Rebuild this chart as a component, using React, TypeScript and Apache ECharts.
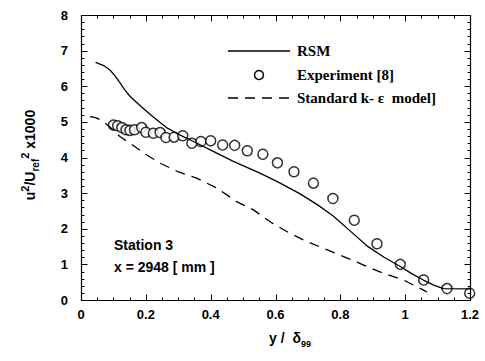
import React, { useEffect, useRef } from "react";
import * as echarts from "echarts";

const rsmData: number[][] = [
  [0.045, 6.67], [0.07, 6.58], [0.09, 6.45], [0.105, 6.29], [0.12, 6.1], [0.135, 5.9],
  [0.151, 5.72], [0.17, 5.56], [0.187, 5.42], [0.205, 5.28], [0.223, 5.14], [0.244, 4.98],
  [0.264, 4.84], [0.285, 4.73], [0.306, 4.63], [0.347, 4.45], [0.408, 4.17],
  [0.47, 3.89], [0.552, 3.56], [0.61, 3.3], [0.676, 2.98], [0.73, 2.67], [0.778, 2.36],
  [0.83, 1.94], [0.882, 1.52], [0.935, 1.2], [0.985, 0.94], [1.02, 0.74], [1.056, 0.56],
  [1.09, 0.41], [1.118, 0.32], [1.2, 0.31],
];

const keData: number[][] = [
  [0.028, 5.15], [0.045, 5.12], [0.064, 5.04], [0.09, 4.85], [0.12, 4.59], [0.151, 4.4],
  [0.203, 4.07], [0.244, 3.84], [0.295, 3.62], [0.326, 3.51], [0.357, 3.42],
  [0.388, 3.28], [0.419, 3.14], [0.45, 2.95], [0.48, 2.76], [0.532, 2.53],
  [0.586, 2.18], [0.645, 1.87], [0.697, 1.64], [0.748, 1.45], [0.81, 1.22],
  [0.882, 0.94], [0.933, 0.75], [0.995, 0.56], [1.036, 0.37], [1.067, 0.23],
];

const expData: number[][] = [
  [0.1, 4.91], [0.113, 4.89], [0.126, 4.84], [0.139, 4.78], [0.151, 4.76],
  [0.165, 4.78], [0.187, 4.84], [0.2, 4.71], [0.223, 4.68], [0.244, 4.7],
  [0.262, 4.56], [0.287, 4.57], [0.314, 4.61], [0.342, 4.4], [0.37, 4.45],
  [0.4, 4.47], [0.437, 4.35], [0.474, 4.34], [0.513, 4.19], [0.561, 4.09],
  [0.606, 3.85], [0.657, 3.6], [0.717, 3.28], [0.777, 2.85], [0.843, 2.24],
  [0.913, 1.58], [0.985, 1.0], [1.057, 0.56], [1.129, 0.32], [1.199, 0.19],
];

const legendNames = ["RSM", "Experiment [8]", "Standard k- \u03b5  model]"];
const stationLines = ["Station 3", "x = 2948 [ mm ]"];

const X_MIN = 0, X_MAX = 1.2, X_MAJOR = 0.2, X_MINOR = 0.05;
const Y_MIN = 0, Y_MAX = 8, Y_MAJOR = 1, Y_MINOR = 0.2;

export default function App() {
  const ref = useRef<HTMLDivElement>(null);
  useEffect(() => {
    if (!ref.current) return;
    const chart = echarts.init(ref.current, undefined, { renderer: "svg" });
    const sans = "Liberation Sans, Arial, sans-serif";
    const serifFont = "Liberation Serif, Times New Roman, serif";
    chart.setOption({
      animation: false,
      grid: { left: 81, right: 15, top: 15, bottom: 61 },
      xAxis: {
        type: "value", min: X_MIN, max: X_MAX, interval: X_MAJOR,
        axisLine: { show: false }, axisTick: { show: false }, splitLine: { show: false },
        axisLabel: { fontWeight: "bold", fontSize: 13, color: "#000", margin: 8 },
      },
      yAxis: {
        type: "value", min: Y_MIN, max: Y_MAX, interval: Y_MAJOR,
        axisLine: { show: false }, axisTick: { show: false }, splitLine: { show: false },
        axisLabel: { fontWeight: "bold", fontSize: 13, color: "#000", margin: 13 },
      },
      series: [
        { type: "line", data: rsmData, symbol: "none", lineStyle: { color: "#000", width: 1.3 } },
        { type: "line", data: keData, symbol: "none", lineStyle: { color: "#000", width: 1.3, type: [10, 7] } },
        {
          type: "scatter", data: expData, symbol: "circle", symbolSize: 10,
          itemStyle: { color: "#fff", borderColor: "#000", borderWidth: 1.5 },
        },
      ],
    });

    const px = (x: number, y: number) =>
      chart.convertToPixel({ xAxisIndex: 0, yAxisIndex: 0 }, [x, y]) as number[];
    const [left, bottom] = px(X_MIN, Y_MIN);
    const [right, top] = px(X_MAX, Y_MAX);
    const snap = (v: number) => Math.round(v) + 0.5;
    const L = snap(left), R = snap(right), T = snap(top), B = snap(bottom);
    const stroke = { stroke: "#000", lineWidth: 1 };
    const ticks: any[] = [];
    const nx = Math.round((X_MAX - X_MIN) / X_MINOR);
    for (let i = 0; i <= nx; i++) {
      const v = X_MIN + i * X_MINOR;
      const major = i % Math.round(X_MAJOR / X_MINOR) === 0;
      const len = major ? 6 : 3;
      const x = snap(px(v, Y_MIN)[0]);
      ticks.push({ type: "line", z: 20, shape: { x1: x, y1: B, x2: x, y2: B - len }, style: stroke });
      ticks.push({ type: "line", z: 20, shape: { x1: x, y1: T, x2: x, y2: T + len }, style: stroke });
    }
    const ny = Math.round((Y_MAX - Y_MIN) / Y_MINOR);
    for (let i = 0; i <= ny; i++) {
      const v = Y_MIN + i * Y_MINOR;
      const major = i % Math.round(Y_MAJOR / Y_MINOR) === 0;
      const len = major ? 6 : 3;
      const y = snap(px(X_MIN, v)[1]);
      ticks.push({ type: "line", z: 20, shape: { x1: L, y1: y, x2: L + len, y2: y }, style: stroke });
      ticks.push({ type: "line", z: 20, shape: { x1: R, y1: y, x2: R - len, y2: y }, style: stroke });
    }

    const legendX = 228;
    const legendTextX = 297;
    const legendYs = [51, 75, 98];
    chart.setOption({
      graphic: [
        {
          type: "rect", z: 20, shape: { x: L, y: T, width: R - L, height: B - T },
          style: { fill: "none", stroke: "#000", lineWidth: 1.2 },
        },
        ...ticks,
        { type: "line", shape: { x1: legendX, y1: legendYs[0], x2: legendX + 62, y2: legendYs[0] }, style: { stroke: "#000", lineWidth: 1.3 } },
        { type: "circle", shape: { cx: legendX + 31, cy: legendYs[1], r: 4.5 }, style: { fill: "#fff", stroke: "#000", lineWidth: 1.5 } },
        { type: "line", shape: { x1: legendX, y1: legendYs[2], x2: legendX + 62, y2: legendYs[2] }, style: { stroke: "#000", lineWidth: 1.3, lineDash: [10, 7] } },
        ...legendNames.map((n, i) => ({
          type: "text", x: legendTextX, y: legendYs[i],
          style: { text: n, font: `bold 15px ${serifFont}`, fill: "#000", verticalAlign: "middle" },
        })),
        ...stationLines.map((t, i) => ({
          type: "text", x: 114, y: 245 + i * 22,
          style: { text: t, font: `bold 14px ${sans}`, fill: "#000", verticalAlign: "middle" },
        })),
        {
          type: "text", x: 30, y: 155, rotation: Math.PI / 2,
          style: {
            text: "{a|u}{sup|2}{a|/U}{sub|ref}{sup|2}{a| x1000}",
            align: "center", verticalAlign: "middle",
            rich: {
              a: { fontSize: 14, fontWeight: "bold", fontFamily: sans, fill: "#000" },
              sup: { fontSize: 11, fontWeight: "bold", fontFamily: sans, padding: [0, 0, 10, 0], fill: "#000" },
              sub: { fontSize: 10, fontWeight: "bold", fontFamily: sans, padding: [10, 0, 0, 0], fill: "#000" },
            },
          },
        },
        {
          type: "text", x: 290, y: 338,
          style: {
            text: "{a|y /  \u03b4}{sub|99}",
            align: "center", verticalAlign: "middle",
            rich: {
              a: { fontSize: 14, fontWeight: "bold", fontFamily: sans, fill: "#000" },
              sub: { fontSize: 9, fontWeight: "bold", fontFamily: sans, padding: [12, 0, 0, 0], fill: "#000" },
            },
          },
        },
      ],
    });
    return () => chart.dispose();
  }, []);
  return <div ref={ref} style={{ position: "absolute", left: 0, top: 0, width: 485, height: 361 }} />;
}
